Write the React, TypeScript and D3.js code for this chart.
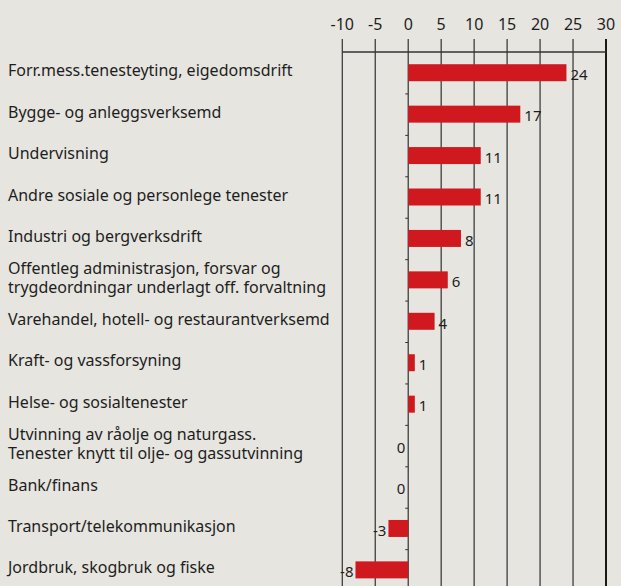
import React from "react";
import * as d3 from "d3";

const categories: string[][] = [
  ["Forr.mess.tenesteyting, eigedomsdrift"],
  ["Bygge- og anleggsverksemd"],
  ["Undervisning"],
  ["Andre sosiale og personlege tenester"],
  ["Industri og bergverksdrift"],
  ["Offentleg administrasjon, forsvar og", "trygdeordningar underlagt off. forvaltning"],
  ["Varehandel, hotell- og restaurantverksemd"],
  ["Kraft- og vassforsyning"],
  ["Helse- og sosialtenester"],
  ["Utvinning av råolje og naturgass.", "Tenester knytt til olje- og gassutvinning"],
  ["Bank/finans"],
  ["Transport/telekommunikasjon"],
  ["Jordbruk, skogbruk og fiske"],
];
const values: number[] = [24, 17, 11, 11, 8, 6, 4, 1, 1, 0, 0, -3, -8];
const tickValues: number[] = [-10, -5, 0, 5, 10, 15, 20, 25, 30];

const W = 621;
const H = 586;
const BG = "#e6e5df";
const RED = "#d0181f";
const FONT = "'Noto Sans', 'Open Sans', sans-serif";

export default function App() {
  const x = d3.scaleLinear().domain([-10, 30]).range([342.3, 606]);
  const axisY = 52;
  const y = d3
    .scaleBand<number>()
    .domain(d3.range(categories.length))
    .range([axisY, axisY + 41.43 * categories.length])
    .paddingInner(0.59)
    .paddingOuter(0.295);
  const step = y.step();
  const bandTop = (i: number) => axisY + i * step;
  const x0 = x(0);

  return (
    <svg
      width={W}
      height={H}
      style={{ position: "absolute", left: 0, top: 0, background: BG, fontFamily: FONT }}
    >
      <rect x={0} y={0} width={W} height={H} fill={BG} />
      {tickValues.map((t) => (
        <line
          key={"g" + t}
          x1={x(t)}
          x2={x(t)}
          y1={39}
          y2={H}
          stroke={t === 30 ? "#1a1a1a" : "#3f3f3f"}
          strokeWidth={t === 30 ? 2 : 1.3}
        />
      ))}
      <line x1={x(-10)} x2={x(30)} y1={axisY} y2={axisY} stroke="#333" strokeWidth={1.3} />
      {tickValues.map((t) => (
        <text key={"t" + t} x={x(t)} y={30} textAnchor="middle" fontSize={16} fill="#1e1e1e">
          {t}
        </text>
      ))}
      {d3.range(1, categories.length).map((i) => (
        <line
          key={"z" + i}
          x1={x0 - 3}
          x2={x0}
          y1={bandTop(i) + 0.5}
          y2={bandTop(i) + 0.5}
          stroke="#333"
          strokeWidth={1}
        />
      ))}
      {values.map((v, i) => (
        <rect
          key={"b" + i}
          x={Math.min(x(v), x0)}
          y={y(i)!}
          width={Math.abs(x(v) - x0)}
          height={y.bandwidth()}
          fill={RED}
        />
      ))}
      {values.map((v, i) => {
        const cy = y(i)! + y.bandwidth() / 2 + 2;
        const pos = v > 0;
        const lx = pos ? x(v) + 4 : v < 0 ? x(v) - 2 : x0 - 3;
        return (
          <text
            key={"v" + i}
            x={lx}
            y={cy}
            dy="0.35em"
            textAnchor={pos ? "start" : "end"}
            fontSize={15}
            fill="#1e1e1e"
          >
            {v}
          </text>
        );
      })}
      {categories.map((lines, i) => {
        const cy = y(i)! + y.bandwidth() / 2 - 2;
        const lh = 19;
        const start = cy - ((lines.length - 1) * lh) / 2;
        return (
          <text key={"c" + i} x={8} fontSize={16} fill="#1e1e1e">
            {lines.map((l, j) => (
              <tspan key={j} x={8} y={start + j * lh} dy="0.35em">
                {l}
              </tspan>
            ))}
          </text>
        );
      })}
    </svg>
  );
}
